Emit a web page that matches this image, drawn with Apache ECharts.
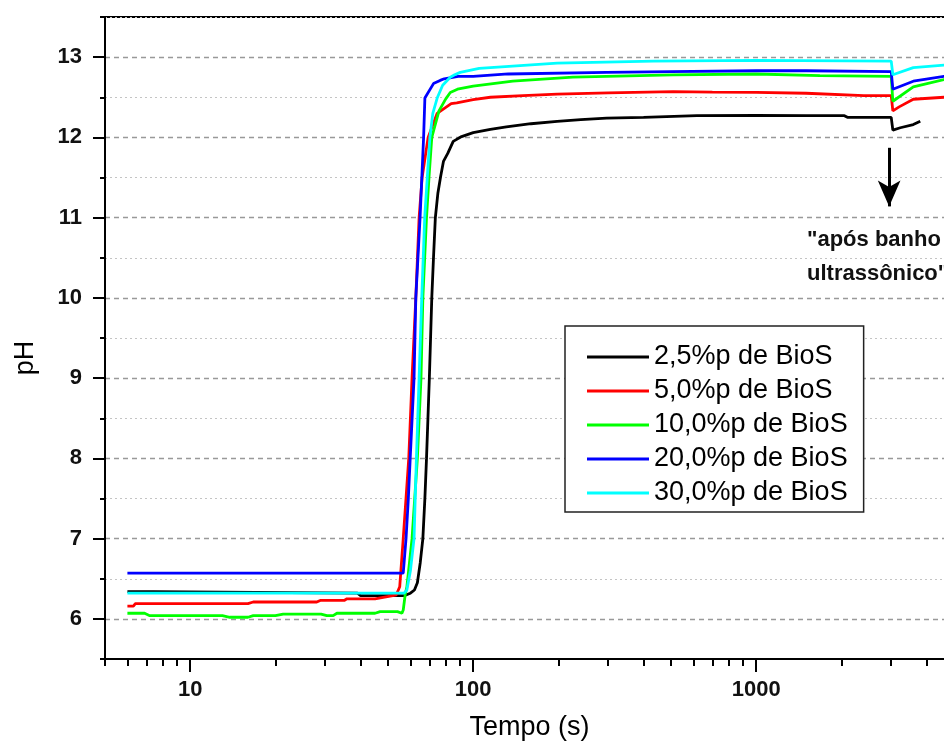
<!DOCTYPE html>
<html>
<head>
<meta charset="utf-8">
<script src="https://cdn.jsdelivr.net/npm/echarts@6/dist/echarts.min.js"></script>
<style>
html,body{margin:0;padding:0;background:#fff;}
#chart{width:944px;height:744px;}
</style>
</head>
<body>
<div id="chart"></div>
<script>
// ---- Data (time in s, pH) ----
const seriesNames = ['2,5%p de BioS', '5,0%p de BioS', '10,0%p de BioS', '20,0%p de BioS', '30,0%p de BioS'];

const bios25 = [[6,6.34],[7.4,6.34],[7.5,6.32],[39,6.32],[40,6.29],[57,6.29],[60,6.32],[62,6.36],[63.5,6.45],[65,6.7],[66.4,7.0],[67.5,7.5],[68.4,8.0],[69.2,8.5],[70,9.0],[70.7,9.5],[71.4,10.0],[72.4,10.5],[73.5,11.0],[75,11.3],[76.7,11.51],[78.5,11.7],[81.3,11.8],[85,11.95],[91,12.01],[100,12.06],[115,12.1],[131,12.13],[160,12.17],[198,12.2],[240,12.22],[296,12.24],[400,12.25],[617,12.27],[1000,12.275],[1500,12.27],[2050,12.27],[2100,12.25],[3000,12.25],[3040,12.09],[3230,12.12],[3590,12.16],[3800,12.2]];

const bios50 = [[6,6.16],[6.3,6.16],[6.4,6.19],[16,6.19],[16.7,6.21],[28,6.21],[28.8,6.23],[35,6.23],[35.8,6.25],[45,6.25],[45.7,6.27],[52,6.29],[53.5,6.3],[55,6.4],[56.6,7.0],[59.2,8.0],[60.8,9.0],[62.7,10.0],[64.4,11.0],[66,11.5],[69.3,12.0],[74.6,12.3],[83.6,12.42],[87.5,12.43],[100,12.47],[115,12.5],[150,12.52],[198,12.54],[300,12.555],[509,12.57],[700,12.565],[1000,12.56],[1500,12.55],[2400,12.52],[3000,12.52],[3040,12.33],[3200,12.38],[3590,12.475],[4610,12.5],[5000,12.5]];

const bios100 = [[6,6.07],[6.9,6.07],[7.2,6.04],[13,6.04],[13.8,6.02],[16,6.02],[16.7,6.04],[20,6.04],[21.3,6.06],[29,6.06],[30.4,6.04],[32,6.04],[33,6.07],[45,6.07],[46.9,6.09],[54,6.09],[56,6.07],[56.6,6.11],[57.5,6.3],[58.3,6.4],[60.8,7.0],[63.5,8.0],[65.4,9.0],[66.4,10.0],[68.4,11.0],[69.8,11.5],[71.4,12.0],[75.7,12.33],[80,12.48],[83,12.56],[88,12.6],[100,12.64],[138,12.7],[225,12.75],[509,12.78],[1000,12.79],[1680,12.77],[3000,12.76],[3040,12.45],[3590,12.63],[4610,12.72],[5000,12.73]];

const bios200 = [[6,6.57],[56.6,6.57],[57.9,7.0],[59,7.5],[59.9,8.0],[61.8,9.0],[62.7,10.0],[64.9,11.0],[66.8,12.0],[67.5,12.49],[72.4,12.67],[76.4,12.71],[79,12.73],[88.5,12.76],[100,12.76],[133,12.79],[296,12.81],[500,12.82],[1000,12.83],[1500,12.83],[3000,12.82],[3040,12.6],[3590,12.7],[4610,12.76],[5000,12.77]];

const bios300 = [[6,6.32],[57,6.32],[58.3,6.36],[60,6.6],[61.8,7.0],[63,8.0],[64.4,9.0],[65.8,10.0],[67.4,11.0],[70.3,12.0],[72,12.3],[74.6,12.49],[78,12.65],[83,12.75],[86,12.78],[90,12.81],[105,12.86],[115,12.87],[198,12.925],[433,12.95],[1000,12.96],[3000,12.95],[3040,12.78],[3590,12.87],[4610,12.9],[5000,12.91]];

const seriesData = [bios25, bios50, bios100, bios200, bios300];
const seriesColors = ['#000000', '#ff0000', '#00ff00', '#0000ff', '#00ffff'];

// ---- Axis tick values ----
const xMajorTicks = [10, 100, 1000];
const xMinorTicks = [5,6,7,8,9,20,30,40,50,60,70,80,90,200,300,400,500,600,700,800,900,2000,3000,4000];
const yMajorTicks = [6,7,8,9,10,11,12,13];
const yMinorTicks = [5.5,6.5,7.5,8.5,9.5,10.5,11.5,12.5,13.5];

// annotation
const arrowX = 2950;
const arrowFrom = 11.87;
const arrowTo = 11.14;
const noteLines = ['"após banho', 'ultrassônico"'];

const FONT = 'Arial, "Liberation Sans", sans-serif';

const chart = echarts.init(document.getElementById('chart'), null, {renderer: 'canvas'});

const series = seriesData.map((d, i) => {
  const s = {
    name: seriesNames[i],
    type: 'line',
    data: d,
    xAxisIndex: 0,
    yAxisIndex: 0,
    showSymbol: false,
    symbol: 'none',
    color: seriesColors[i],
    lineStyle: {color: seriesColors[i], width: 2.8},
    z: 3 + i
  };
  if (i === 0) {
    s.markLine = {
      silent: true,
      symbol: ['none', 'arrow'],
      symbolSize: [17, 26],
      lineStyle: {color: '#000', width: 3, type: 'solid'},
      label: {show: false},
      emphasis: {disabled: true},
      data: [[{coord: [arrowX, arrowFrom]}, {coord: [arrowX, arrowTo]}]]
    };
  }
  return s;
});

const option = {
  animation: false,
  backgroundColor: '#fff',
  grid: {
    left: 105, top: 17, right: -10, bottom: 85,
    outerBoundsMode: 'none',
    containLabel: false,
    show: true, borderColor: '#000', borderWidth: 2, backgroundColor: 'transparent'
  },
  legend: {
    orient: 'vertical',
    left: 565, top: 326,
    padding: [16, 16, 4, 22],
    itemGap: 4,
    itemWidth: 62,
    itemHeight: 3,
    itemTextGap: 8,
    icon: 'rect',
    borderColor: '#222',
    borderWidth: 1.5,
    backgroundColor: '#fff',
    textStyle: {fontFamily: FONT, fontSize: 27, lineHeight: 30, color: '#000'},
    data: seriesNames
  },
  xAxis: [
    {
      type: 'log', logBase: 10, min: 5, max: 5000, position: 'bottom',
      name: 'Tempo (s)', nameLocation: 'middle', nameGap: 55,
      nameTextStyle: {fontFamily: FONT, fontSize: 27, color: '#000'},
      axisLine: {show: true, onZero: false, lineStyle: {color: '#000', width: 2}},
      axisTick: {show: true, inside: false, length: 13, customValues: xMajorTicks, lineStyle: {color: '#000', width: 2}},
      axisLabel: {show: true, margin: 20, customValues: xMajorTicks, formatter: v => String(Math.round(v)),
                  fontFamily: FONT, fontWeight: 'bold', fontSize: 22, color: '#111'},
      splitLine: {show: false},
      minorTick: {show: false}
    },
    {
      type: 'log', logBase: 10, min: 5, max: 5000, position: 'bottom',
      axisLine: {show: false, onZero: false},
      axisTick: {show: true, inside: false, length: 7, customValues: xMinorTicks, lineStyle: {color: '#000', width: 2}},
      axisLabel: {show: false},
      splitLine: {show: false}
    }
  ],
  yAxis: [
    {
      type: 'value', min: 5.5, max: 13.5, position: 'left',
      axisLine: {show: true, onZero: false, lineStyle: {color: '#000', width: 2}},
      axisTick: {show: true, inside: false, length: 12, customValues: yMajorTicks, lineStyle: {color: '#000', width: 2}},
      axisLabel: {show: true, margin: 23, customValues: yMajorTicks, fontFamily: FONT, fontWeight: 'bold', fontSize: 22, color: '#111'},
      splitLine: {show: true, lineStyle: {color: '#999', width: 1.3, type: [5, 4]}}
    },
    {
      type: 'value', min: 5.5, max: 13.5, position: 'left',
      axisLine: {show: false, onZero: false},
      axisTick: {show: true, inside: false, length: 5, customValues: yMinorTicks, lineStyle: {color: '#000', width: 2}},
      axisLabel: {show: false},
      splitLine: {show: true, lineStyle: {color: '#c4c4c4', width: 1.2, type: [2, 3]}}
    }
  ],
  graphic: [
    {type: 'text', x: 26, y: 358, rotation: Math.PI / 2,
     style: {text: 'pH', font: '27px ' + FONT, fill: '#000', textAlign: 'center', textVerticalAlign: 'middle'}},
    {type: 'text', x: 807, y: 240,
     style: {text: noteLines[0], font: 'bold 22px ' + FONT, fill: '#111', textAlign: 'left', textVerticalAlign: 'middle'}},
    {type: 'text', x: 807, y: 274,
     style: {text: noteLines[1], font: 'bold 22px ' + FONT, fill: '#111', textAlign: 'left', textVerticalAlign: 'middle'}}
  ],
  series: series
};

chart.setOption(option);
</script>
</body>
</html>
